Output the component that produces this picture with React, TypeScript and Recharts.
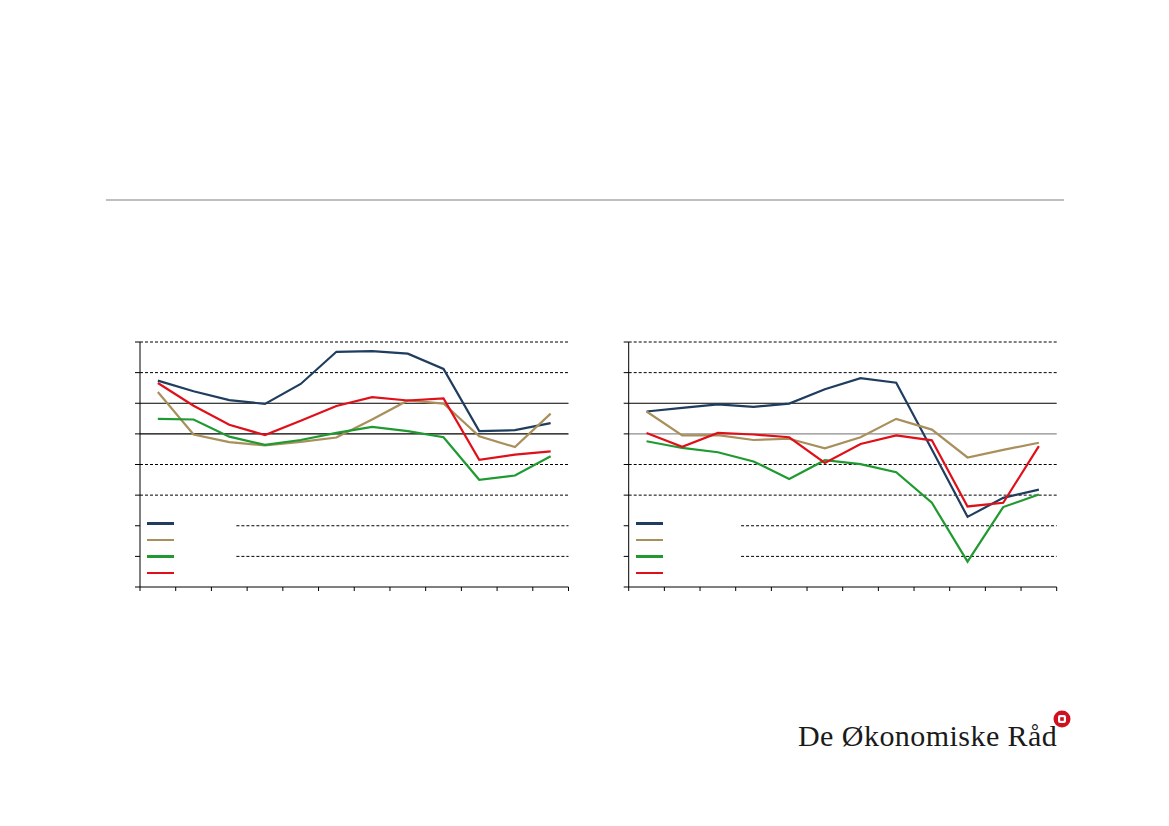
import React from 'react';
import { LineChart, Line, XAxis, YAxis, ReferenceLine } from 'recharts';

// twelve periods per panel
const periods = [1, 2, 3, 4, 5, 6, 7, 8, 9, 10, 11, 12];
const yTicks = [-5, -4, -3, -2, -1, 0, 1, 2, 3];
const xTicks = [0, 1, 2, 3, 4, 5, 6, 7, 8, 9, 10, 11, 12];

const leftBlue = [1.74, 1.39, 1.1, 0.98, 1.63, 2.68, 2.7, 2.62, 2.12, 0.09, 0.12, 0.35];
const leftTan = [1.37, -0.02, -0.27, -0.38, -0.26, -0.12, 0.47, 1.09, 0.99, -0.08, -0.43, 0.66];
const leftGreen = [0.49, 0.47, -0.09, -0.36, -0.2, 0.03, 0.23, 0.09, -0.11, -1.5, -1.36, -0.73];
const leftRed = [1.66, 0.92, 0.3, -0.04, 0.43, 0.91, 1.2, 1.09, 1.16, -0.85, -0.68, -0.57];

const rightBlue = [0.73, 0.85, 0.96, 0.88, 0.99, 1.46, 1.82, 1.67, -0.51, -2.71, -2.09, -1.82];
const rightTan = [0.73, -0.05, -0.04, -0.2, -0.16, -0.47, -0.11, 0.49, 0.14, -0.77, -0.52, -0.29];
const rightGreen = [-0.24, -0.46, -0.6, -0.9, -1.47, -0.86, -0.99, -1.25, -2.25, -4.17, -2.39, -1.98];
const rightRed = [0.03, -0.42, 0.03, -0.02, -0.11, -0.95, -0.33, -0.05, -0.21, -2.37, -2.25, -0.4];

const COLORS = {
  blue: '#1f3d5e',
  tan: '#a98f5b',
  green: '#1f9a30',
  red: '#e0101a',
};

const buildData = (blue: number[], tan: number[], green: number[], red: number[]) =>
  periods.map((p, i) => ({ x: p - 0.5, blue: blue[i], tan: tan[i], green: green[i], red: red[i] }));

const leftData = buildData(leftBlue, leftTan, leftGreen, leftRed);
const rightData = buildData(rightBlue, rightTan, rightGreen, rightRed);

const seriesKeys: Array<keyof typeof COLORS> = ['blue', 'tan', 'green', 'red'];

// legend box: only the coloured swatches show in the original
const LegendSwatches = ({ left, width }: { left: number; width: number }) => (
  <div style={{ position: 'absolute', left, top: 513, background: '#fff', width, height: 70 }}>
    {seriesKeys.map((k, i) => (
      <div
        key={k}
        style={{
          position: 'absolute',
          left: 6,
          top: 9 + i * 16.5,
          width: 27,
          height: 2.5,
          background: COLORS[k],
        }}
      />
    ))}
  </div>
);

interface PanelProps {
  data: ReturnType<typeof buildData>;
  left: number;
  marginLeft: number;
  marginRight: number;
  legendEnd: number;
  legendWidth: number;
  zeroColor: string;
}

const Panel: React.FC<PanelProps> = ({ data, left, marginLeft, marginRight, legendEnd, legendWidth, zeroColor }) => (
  <>
    <div style={{ position: 'absolute', left, top: 320 }}>
      <LineChart
        width={480}
        height={290}
        data={data}
        margin={{ top: 22, right: marginRight, left: marginLeft, bottom: 3 }}
      >
        <XAxis
          type="number"
          dataKey="x"
          domain={[0, 12]}
          ticks={xTicks}
          tickFormatter={() => ''}
          tickSize={4}
          height={20}
          axisLine={{ stroke: '#000' }}
          tickLine={{ stroke: '#000' }}
        />
        <YAxis
          domain={[-5, 3]}
          ticks={yTicks}
          tickFormatter={() => ''}
          tickSize={5}
          width={20}
          axisLine={{ stroke: '#000' }}
          tickLine={{ stroke: '#000' }}
        />
        {[3, 2, -1, -2].map(v => (
          <ReferenceLine key={v} y={v} stroke="#000" strokeDasharray="3 2" />
        ))}
        <ReferenceLine y={1} stroke="#000" />
        <ReferenceLine y={0} stroke={zeroColor} strokeWidth={1.3} />
        {[-3, -4].map(v => (
          <ReferenceLine
            key={v}
            segment={[{ x: legendEnd, y: v }, { x: 12, y: v }]}
            stroke="#000"
            strokeDasharray="3 2"
          />
        ))}
        {seriesKeys.map(k => (
          <Line
            key={k}
            type="linear"
            dataKey={k}
            stroke={COLORS[k]}
            strokeWidth={2.2}
            dot={false}
            isAnimationActive={false}
          />
        ))}
      </LineChart>
    </div>
    <LegendSwatches left={left + marginLeft + 21} width={legendWidth} />
  </>
);

export default function App() {
  return (
    <div style={{ position: 'absolute', left: 0, top: 0, width: 1169, height: 826, background: '#fff' }}>
      <div style={{ position: 'absolute', left: 106, top: 199, width: 958, height: 2, background: '#bfbfbf' }} />
      <Panel
        data={leftData}
        left={100}
        marginLeft={20}
        marginRight={11.5}
        legendEnd={2.7}
        legendWidth={94}
        zeroColor="#000"
      />
      <Panel
        data={rightData}
        left={590}
        marginLeft={18.7}
        marginRight={13.3}
        legendEnd={3.15}
        legendWidth={110}
        zeroColor="#8c8c8c"
      />
      <div
        style={{
          position: 'absolute',
          left: 798,
          top: 718,
          fontFamily: '"Liberation Serif", serif',
          fontSize: 30,
          letterSpacing: 0.45,
          color: '#1a1a1a',
          whiteSpace: 'nowrap',
          lineHeight: '36px',
        }}
      >
        De Økonomiske Råd
      </div>
      <svg style={{ position: 'absolute', left: 1052, top: 709 }} width={20} height={20}>
        <circle cx={10} cy={10} r={8.5} fill="#d0101e" />
        <rect x={6} y={6} width={8} height={8} rx={2} fill="#fff" />
        <rect x={8.2} y={8.2} width={3.6} height={3.6} fill="#d0101e" />
      </svg>
    </div>
  );
}
